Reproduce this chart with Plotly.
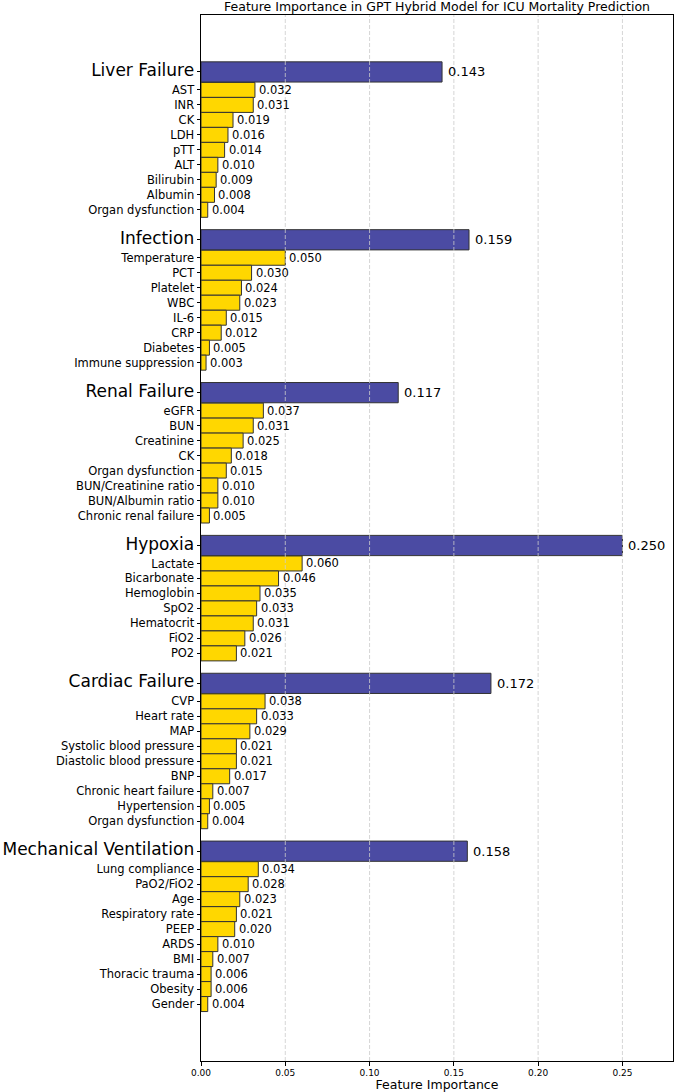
import plotly.graph_objects as go

# ---------------- data ----------------
groups = ["Liver Failure", "Infection", "Renal Failure", "Hypoxia",
          "Cardiac Failure", "Mechanical Ventilation"]
group_values = [0.143, 0.159, 0.117, 0.250, 0.172, 0.158]

liver_features = ["AST", "INR", "CK", "LDH", "pTT", "ALT", "Bilirubin", "Albumin", "Organ dysfunction"]
liver_values = [0.032, 0.031, 0.019, 0.016, 0.014, 0.010, 0.009, 0.008, 0.004]

infection_features = ["Temperature", "PCT", "Platelet", "WBC", "IL-6", "CRP", "Diabetes", "Immune suppression"]
infection_values = [0.050, 0.030, 0.024, 0.023, 0.015, 0.012, 0.005, 0.003]

renal_features = ["eGFR", "BUN", "Creatinine", "CK", "Organ dysfunction",
                  "BUN/Creatinine ratio", "BUN/Albumin ratio", "Chronic renal failure"]
renal_values = [0.037, 0.031, 0.025, 0.018, 0.015, 0.010, 0.010, 0.005]

hypoxia_features = ["Lactate", "Bicarbonate", "Hemoglobin", "SpO2", "Hematocrit", "FiO2", "PO2"]
hypoxia_values = [0.060, 0.046, 0.035, 0.033, 0.031, 0.026, 0.021]

cardiac_features = ["CVP", "Heart rate", "MAP", "Systolic blood pressure", "Diastolic blood pressure",
                    "BNP", "Chronic heart failure", "Hypertension", "Organ dysfunction"]
cardiac_values = [0.038, 0.033, 0.029, 0.021, 0.021, 0.017, 0.007, 0.005, 0.004]

mv_features = ["Lung compliance", "PaO2/FiO2", "Age", "Respiratory rate", "PEEP", "ARDS",
               "BMI", "Thoracic trauma", "Obesity", "Gender"]
mv_values = [0.034, 0.028, 0.023, 0.021, 0.020, 0.010, 0.007, 0.006, 0.006, 0.004]

feature_lists = [liver_features, infection_features, renal_features,
                 hypoxia_features, cardiac_features, mv_features]
value_lists = [liver_values, infection_values, renal_values,
               hypoxia_values, cardiac_values, mv_values]

x_ticks = [0.00, 0.05, 0.10, 0.15, 0.20, 0.25]

# ---------------- layout constants ----------------
HEADER_TO_FIRST = 1.2
GROUP_GAP = 2.0
FONT = "DejaVu Sans"
HEADER_COLOR = "#4B4BA3"
FEATURE_COLOR = "#FFD700"
EDGE = "#333333"

# compute positions
hy, hx, hlab = [], [], []
fy, fx, flab = [], [], []
tickvals, ticktext = [], []
pos = 0.0
for g, gv, feats, vals in zip(groups, group_values, feature_lists, value_lists):
    hy.append(pos); hx.append(gv); hlab.append(g)
    tickvals.append(pos)
    ticktext.append(f'<span style="font-size:17px">{g}</span>')
    pos += HEADER_TO_FIRST
    for i, (f, v) in enumerate(zip(feats, vals)):
        fy.append(pos); fx.append(v); flab.append(f)
        tickvals.append(pos)
        ticktext.append(f)
        if i < len(feats) - 1:
            pos += 1.0
    pos += GROUP_GAP

last = fy[-1]
y_range = [last + 3.8, -3.8]
x_max = max(group_values) * 1.12

fig = go.Figure()
fig.add_trace(go.Bar(
    x=hx, y=hy, orientation="h", width=1.35,
    marker=dict(color=HEADER_COLOR, line=dict(color=EDGE, width=1)),
    hoverinfo="skip", showlegend=False))
fig.add_trace(go.Bar(
    x=fx, y=fy, orientation="h", width=1.0,
    marker=dict(color=FEATURE_COLOR, line=dict(color=EDGE, width=1)),
    hoverinfo="skip", showlegend=False))

annotations = []
for x, y in zip(hx, hy):
    annotations.append(dict(x=x, y=y, xref="x", yref="y", text=f"{x:.3f}",
                            showarrow=False, xanchor="left", yanchor="middle",
                            xshift=4, font=dict(size=13, family=FONT, color="black")))
for x, y in zip(fx, fy):
    annotations.append(dict(x=x, y=y, xref="x", yref="y", text=f"{x:.3f}",
                            showarrow=False, xanchor="left", yanchor="middle",
                            xshift=2, font=dict(size=11.5, family=FONT, color="black")))

shapes = []
for t in x_ticks[1:]:
    shapes.append(dict(type="line", xref="x", yref="paper", x0=t, x1=t, y0=0, y1=1,
                       layer="above", line=dict(color="#cccccc", width=0.8, dash="4px,2px")))

fig.update_layout(
    width=674, height=1092,
    margin=dict(l=201, r=1, t=15, b=31),
    paper_bgcolor="white", plot_bgcolor="white",
    font=dict(family=FONT, color="black"),
    barmode="overlay",
    title=dict(text="Feature Importance in GPT Hybrid Model for ICU Mortality Prediction",
               x=(201 + 336.5) / 674 if False else 0.5, xref="paper", xanchor="center",
               y=1 - 7 / 1092, yref="container", yanchor="middle",
               font=dict(size=12.5, family=FONT, color="black")),
    annotations=annotations,
    shapes=shapes,
)
fig.update_xaxes(
    range=[0, x_max], tickvals=x_ticks, ticktext=[f"{t:.2f}" for t in x_ticks],
    showgrid=False, zeroline=False,
    showline=True, linecolor="black", linewidth=1, mirror=True,
    ticks="outside", ticklen=3.5, tickcolor="black",
    tickfont=dict(size=9, family=FONT, color="black"),
    title=dict(text="Feature Importance", font=dict(size=12.5, family=FONT, color="black"),
               standoff=4),
)
fig.update_yaxes(
    range=y_range, tickvals=tickvals, ticktext=ticktext,
    showgrid=False, zeroline=False,
    showline=True, linecolor="black", linewidth=1, mirror=True,
    ticks="outside", ticklen=3.5, tickcolor="black",
    tickfont=dict(size=11.5, family=FONT, color="black"),
)

fig.write_html("out.html")
